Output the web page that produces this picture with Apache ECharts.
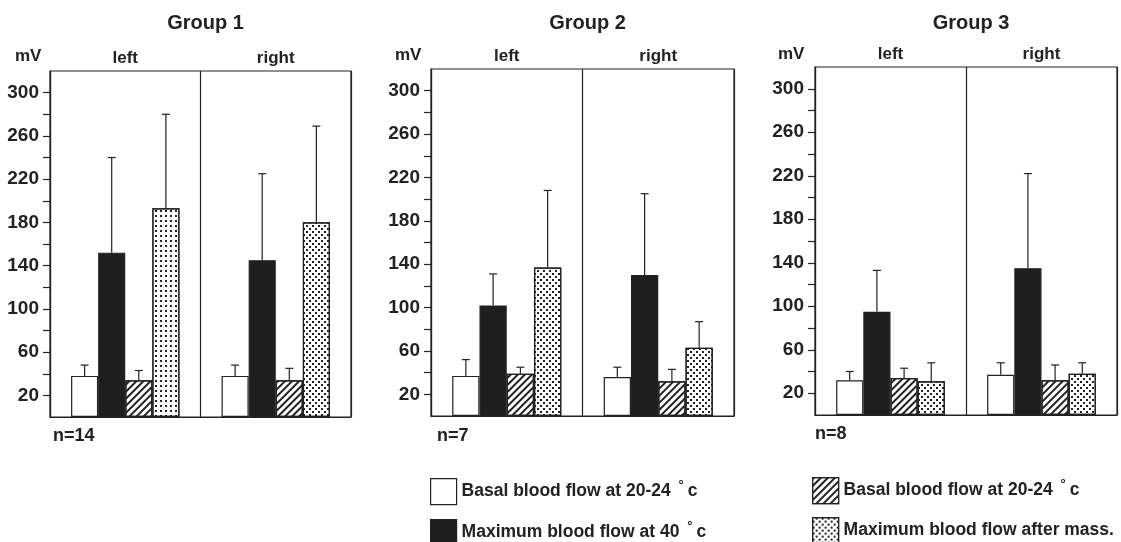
<!DOCTYPE html>
<html>
<head>
<meta charset="utf-8">
<script src="https://cdn.jsdelivr.net/npm/echarts@6/dist/echarts.min.js"></script>
<style>html,body{margin:0;padding:0;background:#fff}#c{width:1121px;height:542px}</style>
</head>
<body>
<div id="c"></div>
<script>
// ---- data ----
const categories = ['left', 'right'];
const groupTitles = ['Group 1', 'Group 2', 'Group 3'];
const groupN = ['n=14', 'n=7', 'n=8'];
const seriesKeys = ['basal', 'max40', 'basalAfter', 'maxMass'];
const seriesLabels = ['Basal blood flow at 20-24 {d|°}c', 'Maximum blood flow at 40 {d|°}c', 'Basal blood flow at 20-24 {d|°}c', 'Maximum blood flow after mass.'];
// means per series [left, right]
const g1Mean = [[38, 38], [152, 145], [34, 34], [193, 180]];
const g2Mean = [[37, 36], [102, 130], [39, 32], [137, 63]];
const g3Mean = [[32, 37], [95, 135], [34, 32], [31, 38]];
// standard deviation (upper error bar length)
const g1Sd = [[10, 10], [88, 80], [9, 11], [87, 89]];
const g2Sd = [[15, 9], [29, 75], [6, 11], [71, 24]];
const g3Sd = [[8, 11], [38, 87], [9, 14], [17, 10]];
const yTickValues = [20, 40, 60, 80, 100, 120, 140, 160, 180, 200, 220, 240, 260, 280, 300];
const yLabelValues = [20, 60, 100, 140, 180, 220, 260, 300];

const groupMeans = [g1Mean, g2Mean, g3Mean];
const groupSds = [g1Sd, g2Sd, g3Sd];

// ---- layout ----
const grids = [
  { left: 50, top: 71, width: 301, height: 346 },
  { left: 431, top: 69, width: 303, height: 347 },
  { left: 815, top: 67, width: 302, height: 348 }
];
const INK = '#222';
const FONT = 'Liberation Sans';
const BW = 0.18;

const hatchDecal = { symbol: 'rect', symbolSize: 1, color: INK, dashArrayX: [1, 0], dashArrayY: [1.5, 3], rotation: -Math.PI / 4 };
const dotDecal = { symbol: 'rect', symbolSize: 1, color: INK, dashArrayX: [[2, 4], [0, 3, 2, 1]], dashArrayY: [2, 1] };
const gridDotDecal = { symbol: 'rect', symbolSize: 1, color: INK, dashArrayX: [2, 3], dashArrayY: [2, 3] };

const seriesStyles = [
  { color: '#fff', borderColor: INK, borderWidth: 1.2 },
  { color: '#1e1e1e', borderColor: INK, borderWidth: 1.2 },
  { color: '#fff', borderColor: INK, borderWidth: 1.2, decal: hatchDecal },
  { color: '#fff', borderColor: INK, borderWidth: 1.2, decal: dotDecal }
];

const xAxes = [], yAxes = [], series = [], graphics = [], titles = [];
const mvPos = [[29, 58], [409, 57], [792, 56]];
const nPos = [[53, 437], [437, 437], [815, 435]];

grids.forEach((g, gi) => {
  xAxes.push({
    type: 'category', gridIndex: gi, data: categories, position: 'top',
    axisLine: { show: true, lineStyle: { color: INK, width: 1.2 } },
    axisTick: { show: false },
    axisLabel: { margin: 4, color: INK, fontFamily: FONT, fontWeight: 'bold', fontSize: 17 },
    splitLine: { show: true, interval: 0, lineStyle: { color: INK, width: 1.2 } }
  });
  yAxes.push({
    type: 'value', gridIndex: gi, min: 0, max: 320, interval: 20,
    axisLine: { show: true, lineStyle: { color: INK, width: 1.2 } },
    axisTick: { show: true, length: 7, customValues: yTickValues, lineStyle: { color: INK, width: 1.2 } },
    axisLabel: { margin: 11, customValues: yLabelValues, color: INK, fontFamily: FONT, fontWeight: 'bold', fontSize: 19 },
    splitLine: { show: false }
  });
  const means = groupMeans[gi], sds = groupSds[gi];
  seriesKeys.forEach((key, k) => {
    series.push({
      type: 'bar', name: key, xAxisIndex: gi, yAxisIndex: gi,
      barWidth: (BW * 100) + '%', barGap: '0%',
      itemStyle: seriesStyles[k],
      data: means[k].map((v, ci) => (gi === 0 && k === 3 && ci === 0)
        ? { value: v, itemStyle: { decal: gridDotDecal } } : v),
      z: 2
    });
  });
  const errData = [];
  seriesKeys.forEach((key, k) => {
    means[k].forEach((m, ci) => errData.push([ci, k, m, m + sds[k][ci]]));
  });
  series.push({
    type: 'custom', xAxisIndex: gi, yAxisIndex: gi, z: 3,
    encode: { x: 0, y: 3 },
    data: errData,
    renderItem: function (params, api) {
      const ci = api.value(0), k = api.value(1), m = api.value(2), top = api.value(3);
      const c = api.coord([ci, m]);
      const t = api.coord([ci, top]);
      const bw = api.size([1, 0])[0] * BW;
      const x = c[0] + (k - 1.5) * bw;
      const st = { stroke: INK, lineWidth: 1.2 };
      return {
        type: 'group', children: [
          { type: 'line', shape: { x1: x, y1: c[1], x2: x, y2: t[1] }, style: st },
          { type: 'line', shape: { x1: x - 4, y1: t[1], x2: x + 4, y2: t[1] }, style: st }
        ]
      };
    }
  });
  titles.push({
    text: groupTitles[gi], left: g.left + g.width / 2, top: 8, textAlign: 'center',
    textStyle: { color: INK, fontFamily: FONT, fontWeight: 'bold', fontSize: 20 }
  });
  graphics.push({
    type: 'text', left: mvPos[gi][0] - 14, top: mvPos[gi][1] - 10,
    style: { text: 'mV', fill: INK, font: 'bold 17px "Liberation Sans"' }
  });
  graphics.push({
    type: 'text', left: nPos[gi][0], top: nPos[gi][1] - 10,
    style: { text: groupN[gi], fill: INK, font: 'bold 18px "Liberation Sans"' }
  });
});

const legendText = {
  color: INK, fontFamily: FONT, fontWeight: 'bold', fontSize: 17.5,
  rich: { d: { color: INK, fontFamily: FONT, fontWeight: 'bold', fontSize: 13, padding: [0, 4, 12, 3], verticalAlign: 'bottom' } }
};
const fmt = name => seriesLabels[seriesKeys.indexOf(name)];
const legendPos = [[430, 478], [430, 519], [812, 477], [812, 517]];
const legends = seriesKeys.map((key, k) => ({
  data: [key], left: legendPos[k][0], top: legendPos[k][1],
  orient: 'horizontal', itemWidth: 26, itemHeight: 26, icon: 'rect',
  selectedMode: false, formatter: fmt, textStyle: legendText, padding: 0,
  itemStyle: { borderColor: INK, borderWidth: 1.2 }
}));

const chart = echarts.init(document.getElementById('c'), null, { renderer: 'canvas' });
chart.setOption({
  backgroundColor: '#fff',
  animation: false,
  title: titles,
  legend: legends,
  grid: grids.map(g => Object.assign({ show: true, borderColor: INK, borderWidth: 1.2, backgroundColor: 'transparent' }, g)),
  xAxis: xAxes,
  yAxis: yAxes,
  series: series,
  graphic: graphics
});
</script>
</body>
</html>
